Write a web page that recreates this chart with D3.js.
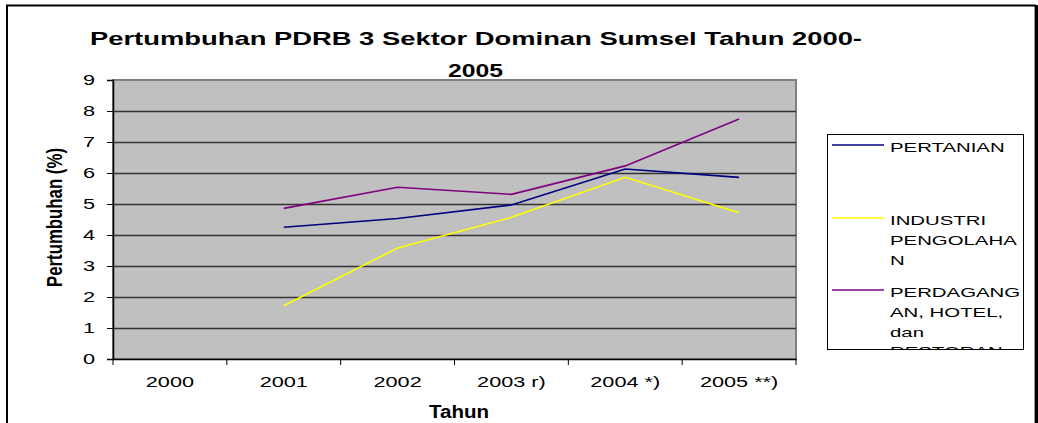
<!DOCTYPE html>
<html>
<head>
<meta charset="utf-8">
<script src="https://cdn.jsdelivr.net/npm/d3@7"></script>
<style>
  body { margin: 0; background: #fff; }
  text { font-family: "Liberation Sans", Arial, sans-serif; }
</style>
</head>
<body>
<svg id="grafica"></svg>
<script>
// Pertumbuhan PDRB 3 sektor dominan Sumsel 2000-2005

const svg_w = 1038;
const svg_h = 423;

// area de la grafica
const margin = {l:113, r:242, t:80, b:64};
const viz_w = svg_w - margin.l - margin.r;
const viz_h = svg_h - margin.t - margin.b;

// el texto del original sale estirado a lo ancho
const sx = 1.55;

// datos
const tahun = ["2000", "2001", "2002", "2003 r)", "2004 *)", "2005 **)"];
const pertanian = [null, 4.25, 4.53, 4.97, 6.13, 5.86];
const industri = [null, 1.72, 3.58, 4.57, 5.86, 4.72];
const perdagangan = [null, 4.86, 5.54, 5.31, 6.23, 7.74];
const y_ticks = [0, 1, 2, 3, 4, 5, 6, 7, 8, 9];

const series = [
  {label: ["PERTANIAN"], values: pertanian, color: "#000080"},
  {label: ["INDUSTRI", "PENGOLAHA", "N"], values: industri, color: "#ffff00"},
  {label: ["PERDAGANG", "AN, HOTEL,", "dan", "RESTORAN"], values: perdagangan, color: "#800080"}
];

let svg = d3.select("#grafica")
  .attr("width", svg_w)
  .attr("height", svg_h);

// marco exterior
svg.append("rect")
  .attr("x", 7).attr("y", 5.5)
  .attr("width", 1028).attr("height", 440)
  .attr("fill", "#fff")
  .attr("stroke", "#000")
  .attr("stroke-width", 2);
svg.append("rect")
  .attr("x", 1035).attr("y", 5)
  .attr("width", 4).attr("height", 420)
  .attr("fill", "#000");
svg.append("line")
  .attr("x1", 1034.5).attr("x2", 1034.5)
  .attr("y1", 7).attr("y2", 423)
  .attr("stroke", "#999");

let x_scale = d3.scaleBand()
  .domain(tahun)
  .range([0, viz_w]);

let y_scale = d3.scaleLinear()
  .domain([0, 9])
  .range([viz_h, 0]);

let plot = svg.append("g")
  .attr("transform", `translate(${margin.l},${margin.t})`);

// fondo gris
plot.append("rect")
  .attr("width", viz_w)
  .attr("height", viz_h)
  .attr("fill", "#c0c0c0")
  .attr("stroke", "#808080")
  .attr("stroke-width", 2);

// lineas de grilla
plot.append("g")
  .selectAll("line")
  .data(y_ticks.filter(d => d > 0 && d < 9))
  .enter().append("line")
  .attr("x1", 0).attr("x2", viz_w)
  .attr("y1", d => y_scale(d) + 0.5)
  .attr("y2", d => y_scale(d) + 0.5)
  .attr("stroke", "#333")
  .attr("stroke-width", 1.5);

// eje y
let y_axis = plot.append("g")
  .call(d3.axisLeft(y_scale).tickValues(y_ticks).tickSize(6));
y_axis.select(".domain").attr("stroke", "#000").attr("stroke-width", 1.5);
y_axis.selectAll("text")
  .attr("x", -18 / sx)
  .attr("transform", `scale(${sx},1)`)
  .attr("font-size", 14)
  .attr("font-family", "Liberation Sans, Arial, sans-serif")
  .attr("fill", "#000");

// eje x
let x_axis = plot.append("g")
  .attr("transform", `translate(0,${viz_h})`)
  .call(d3.axisBottom(x_scale).tickSize(0).tickPadding(18));
x_axis.select(".domain").attr("stroke", "#000").attr("stroke-width", 1.5);
x_axis.selectAll("text")
  .attr("transform", `scale(${sx},1)`)
  .attr("font-size", 14)
  .attr("font-family", "Liberation Sans, Arial, sans-serif")
  .attr("fill", "#000");
// ticks entre categorias
x_axis.append("g")
  .selectAll("line")
  .data(d3.range(tahun.length + 1))
  .enter().append("line")
  .attr("x1", d => d * x_scale.bandwidth())
  .attr("x2", d => d * x_scale.bandwidth())
  .attr("y1", 0).attr("y2", 6)
  .attr("stroke", "#000");

// lineas de datos
let line = d3.line()
  .defined(d => d.v != null)
  .x(d => x_scale(d.t) + x_scale.bandwidth() / 2)
  .y(d => y_scale(d.v));

plot.append("g")
  .selectAll("path")
  .data(series)
  .enter().append("path")
  .attr("d", s => line(s.values.map((v, i) => ({t: tahun[i], v: v}))))
  .attr("fill", "none")
  .attr("stroke", s => s.color)
  .attr("stroke-width", 1.6);

// titulo
svg.append("text")
  .attr("x", 90).attr("y", 45)
  .attr("font-size", 18.5)
  .attr("font-weight", "bold")
  .attr("textLength", 772)
  .attr("lengthAdjust", "spacingAndGlyphs")
  .text("Pertumbuhan PDRB 3 Sektor Dominan Sumsel Tahun 2000-");
svg.append("text")
  .attr("x", 448).attr("y", 77)
  .attr("font-size", 18.5)
  .attr("font-weight", "bold")
  .attr("textLength", 55)
  .attr("lengthAdjust", "spacingAndGlyphs")
  .text("2005");

// titulos de ejes
svg.append("text")
  .attr("x", 429).attr("y", 418)
  .attr("font-size", 18)
  .attr("font-weight", "bold")
  .attr("textLength", 60)
  .attr("lengthAdjust", "spacingAndGlyphs")
  .text("Tahun");

svg.append("text")
  .attr("transform", "translate(62,287) rotate(-90) scale(1,1.45)")
  .attr("font-size", 15)
  .attr("font-weight", "bold")
  .attr("textLength", 139)
  .attr("lengthAdjust", "spacingAndGlyphs")
  .text("Pertumbuhan (%)");

// leyenda
let legend = svg.append("g");
legend.append("defs").append("clipPath").attr("id", "legclip")
  .append("rect").attr("x", 827).attr("y", 134).attr("width", 197).attr("height", 216);
legend.append("rect")
  .attr("x", 827.5).attr("y", 134.5)
  .attr("width", 196).attr("height", 215)
  .attr("fill", "#fff")
  .attr("stroke", "#000");

let leg_y = [145, 218, 290];
let items = legend.append("g").attr("clip-path", "url(#legclip)")
  .selectAll("g")
  .data(series)
  .enter().append("g")
  .attr("transform", (d, i) => `translate(0,${leg_y[i]})`);

items.append("line")
  .attr("x1", 832).attr("x2", 884)
  .attr("y1", 0).attr("y2", 0)
  .attr("stroke", d => d.color)
  .attr("stroke-width", 1.6);

items.append("text")
  .attr("transform", `translate(890,7) scale(1.63,1)`)
  .attr("font-size", 12.5)
  .selectAll("tspan")
  .data(d => d.label)
  .enter().append("tspan")
  .attr("x", 0)
  .attr("dy", (d, i) => i == 0 ? 0 : 19.8)
  .text(d => d);
</script>
</body>
</html>
